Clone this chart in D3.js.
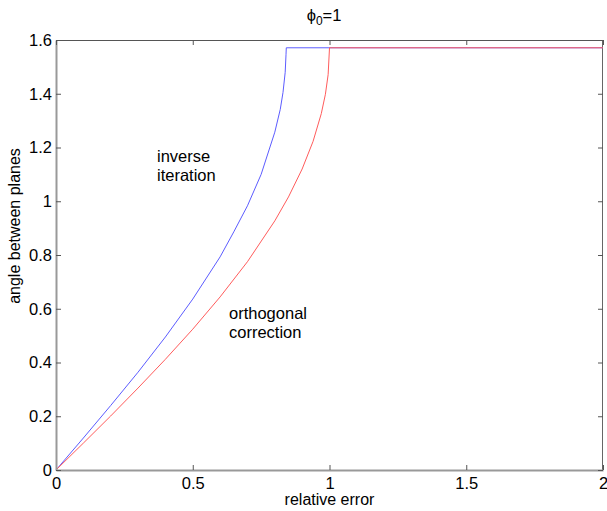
<!DOCTYPE html>
<html>
<head>
<meta charset="utf-8">
<script src="https://cdn.jsdelivr.net/npm/d3@7"></script>
<style>
  body { margin: 0; background: #fff; }
  text { font-family: "Liberation Sans", Arial, sans-serif; fill: #000; }
</style>
</head>
<body>
<script>
// relative error (x) and angle between planes (y)
const orthX = [0, 0.1, 0.2, 0.3, 0.4, 0.5, 0.6, 0.7, 0.8, 0.85, 0.9, 0.94, 0.97, 0.985, 0.995, 1.0, 2.0];
const orthY = [0, 0.100, 0.201, 0.305, 0.412, 0.524, 0.644, 0.775, 0.927, 1.016, 1.120, 1.223, 1.326, 1.398, 1.471, 1.571, 1.571];

const invX = [0, 0.1, 0.2, 0.3, 0.4, 0.5, 0.6, 0.65, 0.7, 0.75, 0.8, 0.82, 0.83, 0.838, 0.841, 0.842, 2.0];
const invY = [0, 0.119, 0.240, 0.364, 0.495, 0.636, 0.793, 0.886, 0.983, 1.100, 1.257, 1.342, 1.405, 1.480, 1.545, 1.571, 1.571];

const xTicks = [0, 0.5, 1, 1.5, 2];
const yTicks = [0, 0.2, 0.4, 0.6, 0.8, 1, 1.2, 1.4, 1.6];

const w = 607;
const h = 511;
const padL = 56, padR = 603, padT = 40, padB = 470;

const x = d3.scaleLinear().domain([0, 2]).range([padL, padR]);
const y = d3.scaleLinear().domain([0, 1.6]).range([padB, padT]);

const svg = d3.select("body").append("svg").attr("width", w).attr("height", h);

// box: top and right darker, left and bottom lighter
svg.append("line").attr("x1", padL).attr("x2", padR).attr("y1", padT + 0.5).attr("y2", padT + 0.5)
  .attr("stroke", "#555").attr("stroke-width", 1);
svg.append("line").attr("x1", padR - 0.5).attr("x2", padR - 0.5).attr("y1", padT).attr("y2", padB)
  .attr("stroke", "#666").attr("stroke-width", 1);

const line = d3.line().x((d) => x(d[0])).y((d) => y(d[1]));

svg.append("path")
  .datum(invX.map((v, i) => [v, invY[i]]))
  .attr("d", line)
  .attr("fill", "none")
  .attr("stroke", "#5c5cff")
  .attr("stroke-width", 1);

svg.append("path")
  .datum(orthX.map((v, i) => [v, orthY[i]]))
  .attr("d", line)
  .attr("fill", "none")
  .attr("stroke", "#ff5c5c")
  .attr("stroke-width", 1);

const xAxis = d3.axisBottom(x).tickValues(xTicks).tickFormat(d3.format("")).tickSizeInner(-5).tickSizeOuter(0).tickPadding(7);
const yAxis = d3.axisLeft(y).tickValues(yTicks).tickFormat(d3.format("")).tickSizeInner(-5).tickSizeOuter(0).tickPadding(4);

svg.append("g")
  .attr("transform", `translate(0, ${padB})`)
  .call(xAxis)
  .call((g) => g.select(".domain").attr("stroke", "#999").attr("stroke-width", 2))
  .call((g) => g.selectAll(".tick line").attr("stroke", "#555"))
  .call((g) => g.selectAll(".tick text").attr("font-size", 16.5).attr("font-family", "Liberation Sans, Arial, sans-serif"));

svg.append("g")
  .attr("transform", `translate(${padL}, 0)`)
  .call(yAxis)
  .call((g) => g.select(".domain").attr("stroke", "#999").attr("stroke-width", 2))
  .call((g) => g.selectAll(".tick line").attr("stroke", "#555"))
  .call((g) => g.selectAll(".tick text").attr("font-size", 16.5).attr("font-family", "Liberation Sans, Arial, sans-serif"));

// top ticks
svg.append("g")
  .attr("transform", `translate(0, ${padT})`)
  .call(d3.axisTop(x).tickValues(xTicks).tickSizeInner(-5).tickSizeOuter(0).tickFormat(""))
  .call((g) => g.select(".domain").remove())
  .call((g) => g.selectAll(".tick line").attr("stroke", "#555"));

// right ticks
svg.append("g")
  .attr("transform", `translate(${padR}, 0)`)
  .call(d3.axisRight(y).tickValues(yTicks).tickSizeInner(-5).tickSizeOuter(0).tickFormat(""))
  .call((g) => g.select(".domain").remove())
  .call((g) => g.selectAll(".tick line").attr("stroke", "#555"));

// title
const title = svg.append("text").attr("x", 324).attr("y", 21)
  .attr("text-anchor", "middle").attr("font-size", 16.5);
title.append("tspan").text("\u03D5");
title.append("tspan").attr("font-size", 12).attr("dy", 4).text("0");
title.append("tspan").attr("dy", -4).text("=1");

svg.append("text").attr("x", (padL + padR) / 2).attr("y", 505)
  .attr("text-anchor", "middle").attr("font-size", 16).text("relative error");

svg.append("text").attr("transform", `translate(20, 226) rotate(-90)`)
  .attr("text-anchor", "middle").attr("font-size", 16).text("angle between planes");

// annotations
svg.append("text").attr("x", 157).attr("y", 162).attr("font-size", 16.5).text("inverse");
svg.append("text").attr("x", 157).attr("y", 181).attr("font-size", 16.5).text("iteration");
svg.append("text").attr("x", 229).attr("y", 319).attr("font-size", 16.5).text("orthogonal");
svg.append("text").attr("x", 229).attr("y", 338).attr("font-size", 16.5).text("correction");
</script>
</body>
</html>
